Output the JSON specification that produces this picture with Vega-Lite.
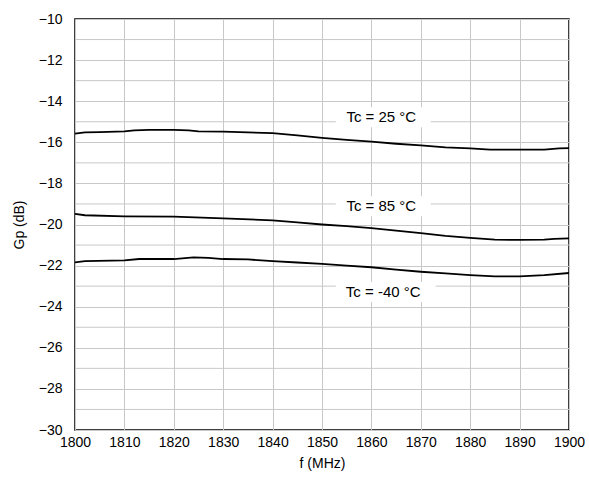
{
  "$schema": "https://vega.github.io/schema/vega-lite/v6.json",
  "width": 494,
  "height": 411,
  "autosize": {"type": "none"},
  "padding": {"left": 75, "top": 19, "right": 20, "bottom": 55},
  "background": "white",
  "config": {
    "view": {"stroke": "black", "strokeWidth": 1.5},
    "font": "Liberation Sans",
    "axis": {
      "labelFont": "Liberation Sans",
      "titleFont": "Liberation Sans",
      "labelFontSize": 14,
      "titleFontSize": 14,
      "titleFontWeight": "normal",
      "labelColor": "black",
      "titleColor": "black",
      "gridColor": "#c8c8c8",
      "gridWidth": 1,
      "gridOpacity": 1,
      "ticks": false,
      "domain": false,
      "labelFlush": false,
      "labelOverlap": false
    }
  },
  "datasets": {
    "minor": [
      {"g": -29}, {"g": -27}, {"g": -25}, {"g": -23}, {"g": -21}, {"g": -19}, {"g": -17}, {"g": -15}, {"g": -13}, {"g": -11}
    ],
    "curves": [
      {"f": 1800, "g": -15.58, "s": "25"}, {"f": 1802, "g": -15.52, "s": "25"}, {"f": 1805, "g": -15.5, "s": "25"},
      {"f": 1810, "g": -15.47, "s": "25"}, {"f": 1812, "g": -15.42, "s": "25"}, {"f": 1815, "g": -15.4, "s": "25"},
      {"f": 1820, "g": -15.4, "s": "25"}, {"f": 1823, "g": -15.42, "s": "25"}, {"f": 1825, "g": -15.47, "s": "25"},
      {"f": 1830, "g": -15.48, "s": "25"}, {"f": 1835, "g": -15.52, "s": "25"}, {"f": 1840, "g": -15.55, "s": "25"},
      {"f": 1845, "g": -15.66, "s": "25"}, {"f": 1850, "g": -15.78, "s": "25"}, {"f": 1855, "g": -15.88, "s": "25"},
      {"f": 1860, "g": -15.97, "s": "25"}, {"f": 1865, "g": -16.07, "s": "25"}, {"f": 1870, "g": -16.15, "s": "25"},
      {"f": 1875, "g": -16.25, "s": "25"}, {"f": 1880, "g": -16.3, "s": "25"}, {"f": 1884, "g": -16.36, "s": "25"},
      {"f": 1890, "g": -16.36, "s": "25"}, {"f": 1895, "g": -16.36, "s": "25"}, {"f": 1898, "g": -16.3, "s": "25"},
      {"f": 1900, "g": -16.28, "s": "25"},
      {"f": 1800, "g": -19.48, "s": "85"}, {"f": 1802, "g": -19.55, "s": "85"}, {"f": 1810, "g": -19.6, "s": "85"},
      {"f": 1820, "g": -19.62, "s": "85"}, {"f": 1830, "g": -19.7, "s": "85"}, {"f": 1840, "g": -19.8, "s": "85"},
      {"f": 1845, "g": -19.9, "s": "85"}, {"f": 1850, "g": -20.0, "s": "85"}, {"f": 1855, "g": -20.08, "s": "85"},
      {"f": 1860, "g": -20.18, "s": "85"}, {"f": 1865, "g": -20.3, "s": "85"}, {"f": 1870, "g": -20.42, "s": "85"},
      {"f": 1875, "g": -20.55, "s": "85"}, {"f": 1880, "g": -20.65, "s": "85"}, {"f": 1885, "g": -20.74, "s": "85"},
      {"f": 1890, "g": -20.75, "s": "85"}, {"f": 1895, "g": -20.74, "s": "85"}, {"f": 1897, "g": -20.7, "s": "85"},
      {"f": 1900, "g": -20.68, "s": "85"},
      {"f": 1800, "g": -21.84, "s": "-40"}, {"f": 1802, "g": -21.78, "s": "-40"}, {"f": 1810, "g": -21.75, "s": "-40"},
      {"f": 1813, "g": -21.68, "s": "-40"}, {"f": 1820, "g": -21.68, "s": "-40"}, {"f": 1824, "g": -21.6, "s": "-40"},
      {"f": 1827, "g": -21.62, "s": "-40"}, {"f": 1830, "g": -21.68, "s": "-40"}, {"f": 1835, "g": -21.7, "s": "-40"},
      {"f": 1840, "g": -21.78, "s": "-40"}, {"f": 1845, "g": -21.85, "s": "-40"}, {"f": 1850, "g": -21.92, "s": "-40"},
      {"f": 1855, "g": -22.0, "s": "-40"}, {"f": 1860, "g": -22.08, "s": "-40"}, {"f": 1865, "g": -22.2, "s": "-40"},
      {"f": 1870, "g": -22.3, "s": "-40"}, {"f": 1875, "g": -22.38, "s": "-40"}, {"f": 1880, "g": -22.46, "s": "-40"},
      {"f": 1885, "g": -22.52, "s": "-40"}, {"f": 1890, "g": -22.52, "s": "-40"}, {"f": 1895, "g": -22.46, "s": "-40"},
      {"f": 1900, "g": -22.36, "s": "-40"}
    ],
    "labels": [
      {"text": "Tc = 25 °C", "f": 1862, "g": -14.77, "f1": 1852.8, "f2": 1872, "g1": -14.3, "g2": -15.27},
      {"text": "Tc = 85 °C", "f": 1862, "g": -19.1, "f1": 1852.8, "f2": 1872, "g1": -18.63, "g2": -19.6},
      {"text": "Tc = -40 °C", "f": 1862.4, "g": -23.27, "f1": 1852.8, "f2": 1873, "g1": -22.8, "g2": -23.77}
    ]
  },
  "layer": [
    {
      "data": {"name": "minor"},
      "mark": {"type": "rule", "color": "#c8c8c8", "strokeWidth": 1},
      "encoding": {
        "y": {"field": "g", "type": "quantitative", "scale": {"domain": [-30, -10], "nice": false},
          "axis": {"orient": "left", "tickCount": 12, "title": "Gp (dB)", "labelPadding": 13, "titlePadding": 12, "grid": true}}
      }
    },
    {
      "data": {"name": "labels"},
      "mark": {"type": "rect", "fill": "white"},
      "encoding": {
        "x": {"field": "f1", "type": "quantitative", "scale": {"domain": [1800, 1900], "nice": false},
          "axis": {"tickCount": 12, "format": "d", "title": "f (MHz)", "labelPadding": 5, "titlePadding": 7, "grid": true}},
        "x2": {"field": "f2"},
        "y": {"field": "g1", "type": "quantitative"},
        "y2": {"field": "g2"}
      }
    },
    {
      "data": {"name": "curves"},
      "mark": {"type": "line", "color": "black", "strokeWidth": 1.8},
      "encoding": {
        "x": {"field": "f", "type": "quantitative"},
        "y": {"field": "g", "type": "quantitative"},
        "detail": {"field": "s", "type": "nominal"}
      }
    },
    {
      "data": {"name": "labels"},
      "mark": {"type": "text", "fontSize": 15, "font": "Liberation Sans", "color": "black", "align": "center", "baseline": "middle"},
      "encoding": {
        "x": {"field": "f", "type": "quantitative"},
        "y": {"field": "g", "type": "quantitative"},
        "text": {"field": "text"}
      }
    }
  ]
}
